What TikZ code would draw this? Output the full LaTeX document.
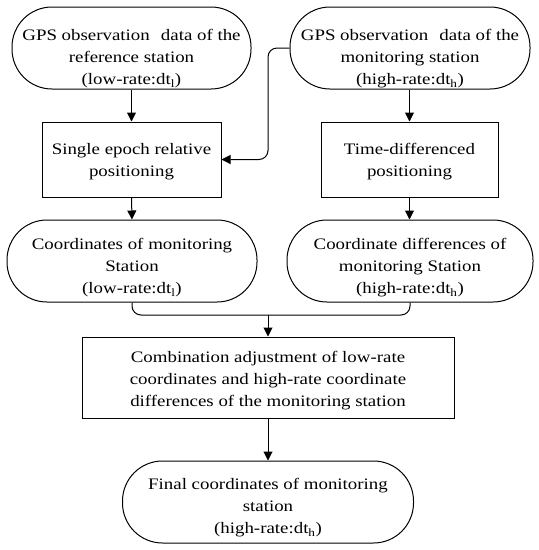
\documentclass[tikz,border=0pt]{standalone}
\usepackage{fontspec}
\setmainfont{Liberation Serif}[FakeStretch=1.18]
\usetikzlibrary{arrows.meta}
\tikzset{
  shp/.style={draw, line width=1pt, inner sep=0pt},
  term/.style={shp, rounded corners=40pt},
  procbox/.style={shp},
  txt/.style={align=center, inner sep=0pt, font=\fontsize{16}{22}\selectfont},
  conn/.style={line width=1pt, -{Triangle[width=9pt,length=9pt]}},
  link/.style={line width=1pt, rounded corners=9pt}
}
\newcommand{\lowr}{(low-rate:dt\textsubscript{l})}
\newcommand{\highr}{(high-rate:dt\textsubscript{h})}
\begin{document}
\begin{tikzpicture}[x=1pt,y=-1pt]
\useasboundingbox (0,0) rectangle (539,550);
\node[term, minimum width=239pt, minimum height=82pt] (A) at (131.5,48) {};
\node[txt] (At) at ([yshift=-11pt]A.center)
  {GPS observation\hspace{0.4em} data of the\\reference station\\\lowr};
\node[term, minimum width=240pt, minimum height=82pt] (B) at (410,48) {};
\node[txt] (Bt) at ([yshift=-11pt]B.center)
  {GPS observation\hspace{0.4em} data of the\\monitoring station\\\highr};
\node[procbox, minimum width=179pt, minimum height=75pt] (C) at (131.5,159.5) {};
\node[txt] (Ct) at ([yshift=-2pt]C.center) {Single epoch relative\\positioning};
\node[procbox, minimum width=177pt, minimum height=75pt] (D) at (409.5,159.5) {};
\node[txt] (Dt) at ([yshift=-2pt]D.center) {Time-differenced\\positioning};
\node[term, minimum width=250pt, minimum height=82pt] (E) at (132,261) {};
\node[txt] (Et) at ([yshift=-7pt]E.center) {Coordinates of monitoring\\Station\\\lowr};
\node[term, minimum width=246pt, minimum height=82pt] (F) at (410,261) {};
\node[txt] (Ft) at ([yshift=-7pt]F.center) {Coordinate differences of\\monitoring Station\\\highr};
\node[procbox, minimum width=372pt, minimum height=81pt] (G) at (268,377.5) {};
\node[txt] (Gt) at ([yshift=-3pt]G.center)
  {Combination adjustment of low-rate\\coordinates and high-rate coordinate\\differences of the monitoring station};
\node[term, minimum width=291pt, minimum height=82pt] (H) at (268,502) {};
\node[txt] (Ht) at ([yshift=-6pt]H.center) {Final coordinates of monitoring\\station\\\highr};
\coordinate (mid) at (268,315);
\draw[conn] (A.south) -- (C.north);
\draw[conn] (B.south -| D.north) -- (D.north);
\draw[conn] (C.south) -- (E.north);
\draw[conn] (D.south) -- (D.south |- F.north);
\draw[conn, rounded corners=9pt] (B.west) -- (268,48) -- (268,159.5) -- (C.east);
\draw[link] (E.south) -- (E.south |- mid) -- (mid);
\draw[link] (F.south) -- (F.south |- mid) -- (mid);
\draw[conn] (mid) -- (G.north);
\draw[conn] (G.south) -- (H.north);
\end{tikzpicture}
\end{document}
